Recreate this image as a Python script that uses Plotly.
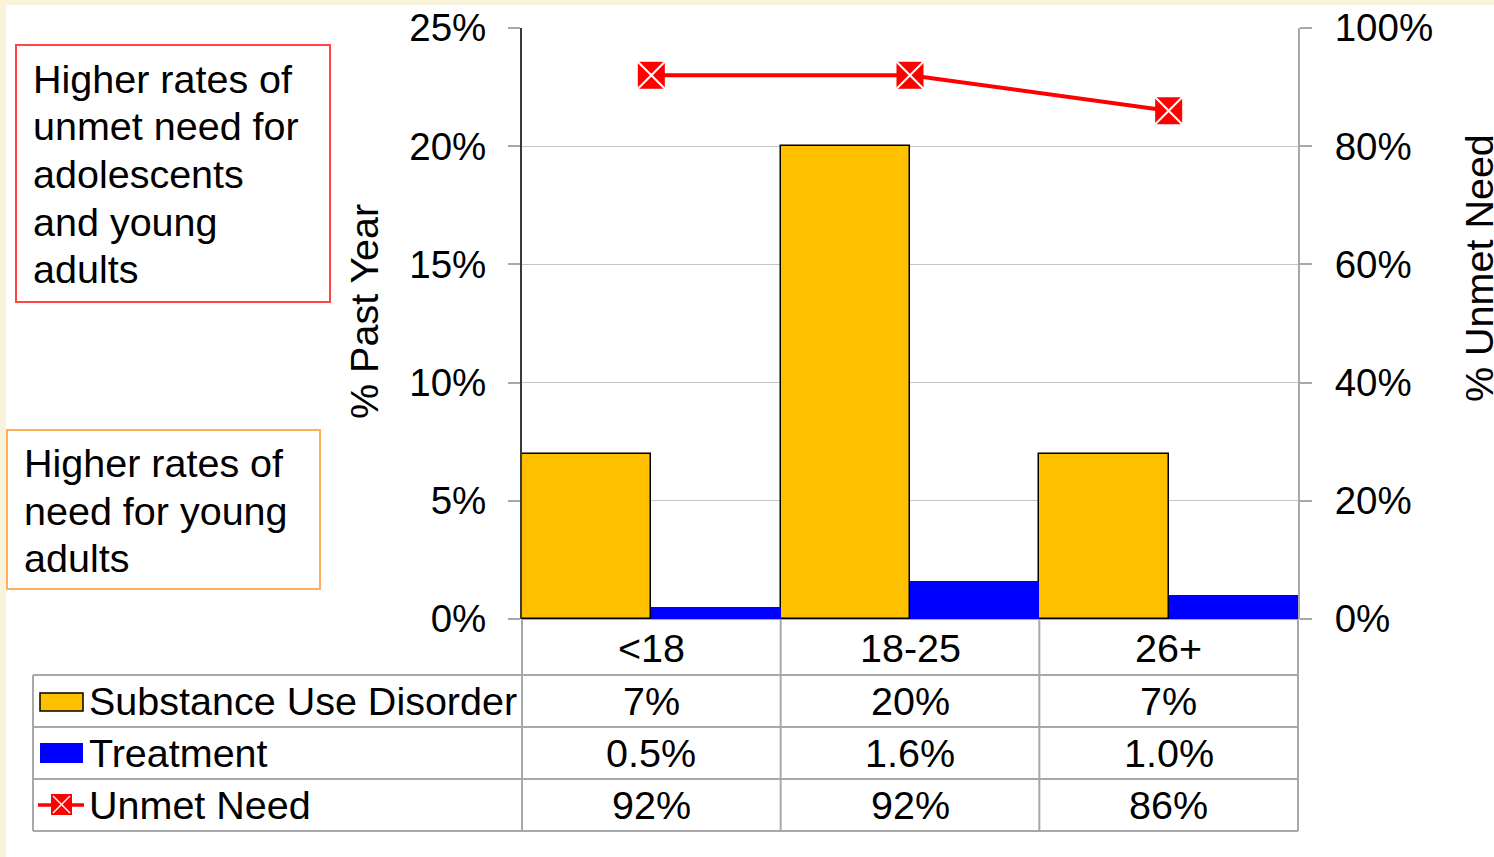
import plotly.graph_objects as go

# Data
categories = ["<18", "18-25", "26+"]
sud = [7, 20, 7]                 # % Past Year, Substance Use Disorder
treatment = [0.5, 1.6, 1.0]      # % Past Year, Treatment
unmet = [92, 92, 86]             # % Unmet Need

series_names = ["Substance Use Disorder", "Treatment", "Unmet Need"]
left_ticks = [0, 5, 10, 15, 20, 25]
right_ticks = [0, 20, 40, 60, 80, 100]

W, H = 1494, 857
FONT = "Liberation Sans, Arial, sans-serif"
FS = 39.5
TICK_FS = 38.5
CREAM = "#FAF3DC"
GOLD = "#FFC000"
BLUE = "#0000FF"
RED = "#FF0000"
GRID = "#C4C4C4"
TABLE = "#A8A8A8"


def px(x):
    return x / W


def py(y):
    return 1 - y / H


# plot area in pixels
L, R, T, B = 522, 1298, 28, 619

fig = go.Figure()

fig.add_trace(go.Bar(
    x=categories, y=sud, name=series_names[0],
    marker=dict(color=GOLD, line=dict(color="#000000", width=1.5)),
))
fig.add_trace(go.Bar(
    x=categories, y=treatment, name=series_names[1],
    marker=dict(color=BLUE, line=dict(width=0)),
))
fig.add_trace(go.Scatter(
    x=categories, y=unmet, name=series_names[2], yaxis="y2",
    mode="lines+markers",
    line=dict(color=RED, width=4),
    marker=dict(symbol="square", size=27, color=RED, line=dict(width=0)),
))
fig.add_trace(go.Scatter(
    x=categories, y=unmet, yaxis="y2", mode="markers", showlegend=False,
    hoverinfo="skip",
    marker=dict(symbol="x-thin", size=31, color="white",
                line=dict(color="white", width=2)),
))

shapes = []
annotations = []

# white card over the cream page
shapes.append(dict(type="rect", xref="paper", yref="paper", layer="below",
                   x0=px(6), x1=1.0, y0=0.0, y1=py(5),
                   fillcolor="white", line=dict(width=0)))

# data table grid
x_edges = [L, L + (R - L) / 3, L + 2 * (R - L) / 3, R]
row_y = [B, 675, 727, 779, 831]
tl = dict(color=TABLE, width=2)
for xe in x_edges:
    shapes.append(dict(type="line", xref="paper", yref="paper",
                       x0=px(xe), x1=px(xe), y0=py(B), y1=py(row_y[-1]), line=tl))
shapes.append(dict(type="line", xref="paper", yref="paper",
                   x0=px(33), x1=px(33), y0=py(row_y[1]), y1=py(row_y[-1]), line=tl))
for ry in row_y[1:]:
    shapes.append(dict(type="line", xref="paper", yref="paper",
                       x0=px(33), x1=px(R), y0=py(ry), y1=py(ry), line=tl))

# legend keys inside the table
shapes.append(dict(type="rect", xref="paper", yref="paper",
                   x0=px(40), x1=px(83), y0=py(711), y1=py(693),
                   fillcolor=GOLD, line=dict(color="#000000", width=1.5)))
shapes.append(dict(type="rect", xref="paper", yref="paper",
                   x0=px(40), x1=px(83), y0=py(763), y1=py(743),
                   fillcolor=BLUE, line=dict(width=0)))
shapes.append(dict(type="line", xref="paper", yref="paper",
                   x0=px(38), x1=px(84), y0=py(805), y1=py(805),
                   line=dict(color=RED, width=3.5)))
shapes.append(dict(type="rect", xref="paper", yref="paper",
                   x0=px(51), x1=px(72), y0=py(815), y1=py(794),
                   fillcolor=RED, line=dict(width=0)))
for a, b in [((53, 796), (70, 813)), ((53, 813), (70, 796))]:
    shapes.append(dict(type="line", xref="paper", yref="paper",
                       x0=px(a[0]), y0=py(a[1]), x1=px(b[0]), y1=py(b[1]),
                       line=dict(color="white", width=1.5)))

# callout boxes
shapes.append(dict(type="rect", xref="paper", yref="paper",
                   x0=px(16), x1=px(330), y0=py(302), y1=py(45),
                   line=dict(color="#FF4545", width=2), fillcolor="white"))
shapes.append(dict(type="rect", xref="paper", yref="paper",
                   x0=px(7), x1=px(320), y0=py(589), y1=py(430),
                   line=dict(color="#FFAE5C", width=2), fillcolor="white"))


def text(x, y, s, xanchor="left", **kw):
    annotations.append(dict(xref="paper", yref="paper", x=px(x), y=py(y), text=s,
                            showarrow=False, xanchor=xanchor, yanchor="middle",
                            font=dict(family=FONT, size=FS, color="#000000"), **kw))


box1 = ["Higher rates of", "unmet need for", "adolescents", "and young", "adults"]
for i, line in enumerate(box1):
    text(31, 79 + i * 47.5, line)
box2 = ["Higher rates of", "need for young", "adults"]
for i, line in enumerate(box2):
    text(22, 463 + i * 47.5, line)

# axis titles
text(364, 312, "% Past Year", xanchor="center", textangle=-90)
text(1479, 268, "% Unmet Need", xanchor="center", textangle=-90)

# table contents
row_centers = [648, 701, 753, 805]
for i, c in enumerate(categories):
    annotations.append(dict(xref="x", yref="paper", x=c, y=py(row_centers[0]), text=c,
                            showarrow=False, xanchor="center", yanchor="middle",
                            font=dict(family=FONT, size=FS, color="#000000")))
table_rows = [
    [f"{v:g}%" for v in sud],
    [f"{v:.1f}%" for v in treatment],
    [f"{v:g}%" for v in unmet],
]
for r, vals in enumerate(table_rows):
    text(87, row_centers[r + 1], series_names[r])
    for c, v in zip(categories, vals):
        annotations.append(dict(xref="x", yref="paper", x=c, y=py(row_centers[r + 1]),
                                text=v, showarrow=False, xanchor="center",
                                yanchor="middle",
                                font=dict(family=FONT, size=FS, color="#000000")))

fig.update_layout(
    width=W, height=H,
    margin=dict(l=0, r=0, t=0, b=0, autoexpand=False),
    paper_bgcolor=CREAM, plot_bgcolor="white",
    showlegend=False,
    barmode="group", bargap=0, bargroupgap=0,
    font=dict(family=FONT, size=FS, color="#000000"),
    xaxis=dict(domain=[px(L), px(R)], range=[-0.5, 2.5], showticklabels=False,
               showgrid=False, zeroline=False, showline=False, ticks="",
               automargin=False, fixedrange=True),
    yaxis=dict(domain=[py(B), py(T)], range=[0, 25], tickvals=left_ticks,
               ticktext=[f"{v}%" for v in left_ticks],
               showgrid=True, gridcolor=GRID, gridwidth=1,
               zeroline=True, zerolinecolor=TABLE, zerolinewidth=2,
               showline=True, linecolor="#3A3A3A", linewidth=2,
               ticks="outside", ticklen=12, tickwidth=2, tickcolor=TABLE,
               ticklabelstandoff=14, automargin=False,
               tickfont=dict(family=FONT, size=TICK_FS, color="#000000")),
    yaxis2=dict(overlaying="y", side="right", range=[0, 100], tickvals=right_ticks,
                ticktext=[f"{v}%" for v in right_ticks],
                showgrid=False, zeroline=False,
                showline=True, linecolor=TABLE, linewidth=2,
                ticks="outside", ticklen=12, tickwidth=2, tickcolor=TABLE,
                ticklabelstandoff=15, automargin=False,
                tickfont=dict(family=FONT, size=TICK_FS, color="#000000")),
    shapes=shapes,
    annotations=annotations,
)

fig.write_html("out.html")
